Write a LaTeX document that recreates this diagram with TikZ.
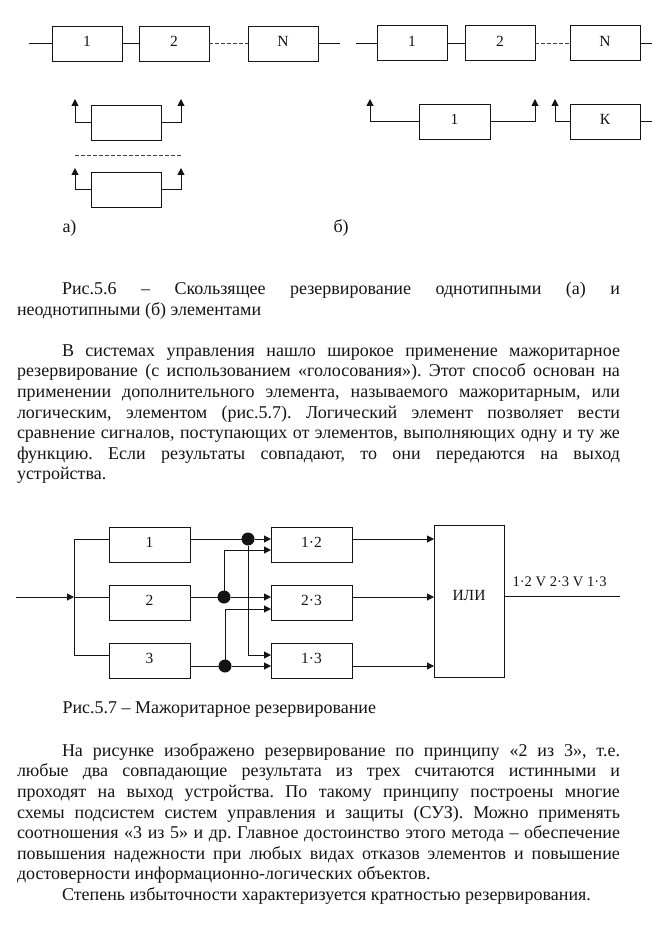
\documentclass[tikz,border=0pt]{standalone}
\usepackage{fontspec}
\setmainfont{Liberation Serif}
\usepackage{xcolor}
\usetikzlibrary{arrows.meta,positioning,calc}

\begin{document}
\frenchspacing
\begin{tikzpicture}[
  x=1pt, y=-1pt,
  font=\fontsize{18}{20.6}\selectfont,
  line width=1pt,
  color=black!92,
  unit/.style={draw, font=\fontsize{15.5}{18}\selectfont, text depth=5pt, outer sep=0pt, inner sep=0pt, minimum width=70pt, minimum height=35pt},
  wide/.style={unit, minimum width=81pt},
  dot/.style={circle, fill, outer sep=0pt, inner sep=0pt, minimum size=13pt},
  arr/.style={-{Triangle[length=7pt,width=7pt]}},
  gap/.style={dash pattern=on 3.5pt off 2.5pt, black!75},
  para/.style={anchor=north west, inner sep=0pt, outer sep=0pt, text width=603pt, align=justify},
  lab/.style={anchor=base west, inner sep=0pt}
]
  \useasboundingbox (0,0) rectangle (660,933);

  %% series chain, a)
  \node[unit] (a1) at (87,44) {1};
  \node[unit, right=17pt of a1] (a2) {2};
  \node[unit, right=39pt of a2] (aN) {N};
  \coordinate[left=23pt of a1] (ain);
  \coordinate[right=22pt of aN] (aout);
  \draw (ain) -- (a1);
  \draw (a1) -- (a2);
  \draw[gap] (a2) -- (aN);
  \draw (aN) -- (aout);

  %% spares, a)
  \node[unit] (s1) at (126,123) {};
  \node[unit, below=32pt of s1] (s2) {};
  \coordinate (s1l) at (75,99);
  \coordinate (s1r) at (181,99);
  \coordinate (s2l) at (75,168);
  \coordinate (s2r) at (181,168);
  \draw[arr] (s1) -| (s1l);
  \draw[arr] (s1) -| (s1r);
  \draw[arr] (s2) -| (s2l);
  \draw[arr] (s2) -| (s2r);
  \coordinate (sgl) at (75,156);
  \coordinate (sgr) at (181,156);
  \draw[gap] (sgl) -- (sgr);
  \node[lab] (la) at (62,233) {а)};

  %% series chain, b)
  \node[unit] (b1) at (412,43.5) {1};
  \node[unit, right=18pt of b1] (b2) {2};
  \node[unit, right=35pt of b2] (bN) {N};
  \coordinate[left=21pt of b1] (bin);
  \coordinate[right=12pt of bN] (bout);
  \draw (bin) -- (b1);
  \draw (b1) -- (b2);
  \draw[gap] (b2) -- (bN);
  \draw (bN) -- (bout);

  %% spares, b)
  \node[unit, minimum width=71pt] (r1) at (454.5,122) {1};
  \node[unit] (rK) at (605,122) {К};
  \coordinate (r1l) at (370,99);
  \coordinate (r1r) at (535,99);
  \coordinate (rKl) at (555,99);
  \coordinate[right=12pt of rK] (rKout);
  \draw[arr] (r1) -| (r1l);
  \draw[arr] (r1) -| (r1r);
  \draw[arr] (rK) -| (rKl);
  \draw (rK) -- (rKout);
  \node[lab] (lb) at (333,233) {б)};

  %% caption 5.6
  \node[para] (t1) at (17,282) {\hspace*{45pt}Рис.5.6 \ – \ Скользящее \ резервирование \ однотипными \ (а) \ и\linebreak
    неоднотипными (б) элементами};

  %% text above 5.7
  \node[para] (t2) at (17,344.5) {\hspace*{45pt}В системах управления нашло широкое применение мажоритарное\linebreak
    резервирование (с использованием «голосования»). Этот способ основан на\linebreak
    применении дополнительного элемента, называемого мажоритарным, или\linebreak
    логическим, элементом (рис.5.7). Логический элемент позволяет вести\linebreak
    сравнение сигналов, поступающих от элементов, выполняющих одну и ту же\linebreak
    функцию. Если результаты совпадают, то они передаются на выход\linebreak
    устройства.};

  %% majority circuit
  \node[wide] (k1) at (149.5,544.5) {1};
  \node[wide, below=23pt of k1] (k2) {2};
  \node[wide, below=23pt of k2] (k3) {3};
  \node[wide, right=81pt of k1] (m12) {1·2};
  \node[wide, right=81pt of k2] (m23) {2·3};
  \node[wide, right=81pt of k3] (m13) {1·3};
  \node[unit, text depth=12pt, minimum height=152pt, right=82pt of m23, yshift=1.5pt] (vote) {ИЛИ};

  \coordinate (vin) at (16,597);
  \coordinate (split) at (74,597);
  \draw[arr] (vin) -- (split);
  \draw (split) -- ([yshift=5.5pt]k2.west);
  \draw (split) |- ([yshift=5.5pt]k1.west);
  \draw (split) |- ([yshift=5.5pt]k3.west);

  \node[dot] (d1) at (248,539) {};
  \node[dot] (d2) at (224,597) {};
  \node[dot] (d3) at (225,666) {};
  \draw (d1 -| k1.east) -- (d1);
  \draw (d2 -| k2.east) -- (d2);
  \draw (d3 -| k3.east) -- (d3);

  \draw[arr] (d1) -- (d1 -| m12.west);
  \draw[arr] (d2) |- ([yshift=-5.5pt]m12.west);
  \draw[arr] (d2) -- (d2 -| m23.west);
  \draw[arr] (d3) |- ([yshift=-6.5pt]m23.west);
  \draw[arr] (d1) |- ([yshift=5.5pt]m13.west);
  \draw[arr] (d3) -- (d3 -| m13.west);

  \draw[arr] (d1 -| m12.east) -- (d1 -| vote.west);
  \draw[arr] (d2 -| m23.east) -- (d2 -| vote.west);
  \draw[arr] (d3 -| m13.east) -- (d3 -| vote.west);

  \coordinate (vout) at (620,596);
  \draw (vout -| vote.east) -- (vout);
  \node[lab, font=\fontsize{14.6}{16}\selectfont] (vlab) at (512,586) {1·2 V 2·3 V 1·3};

  %% caption 5.7
  \node[lab] (t3) at (62,713) {Рис.5.7 – Мажоритарное резервирование};

  %% text below 5.7
  \node[para] (t4) at (17,743.5) {\hspace*{45pt}На рисунке изображено резервирование по принципу «2 из 3», т.е.\linebreak
    любые два совпадающие результата из трех считаются истинными и\linebreak
    проходят на выход устройства. По такому принципу построены многие\linebreak
    схемы подсистем систем управления и защиты (СУЗ). Можно применять\linebreak
    соотношения «3 из 5» и др. Главное достоинство этого метода – обеспечение\linebreak
    повышения надежности при любых видах отказов элементов и повышение\linebreak
    достоверности информационно-логических объектов.\par
    \hspace*{45pt}Степень избыточности характеризуется кратностью резервирования.};
\end{tikzpicture}
\end{document}
